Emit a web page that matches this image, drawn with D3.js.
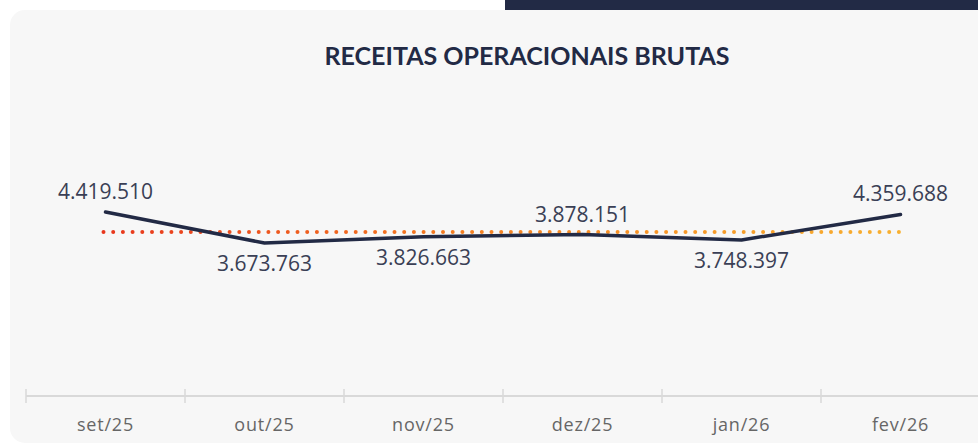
<!DOCTYPE html>
<html>
<head>
<meta charset="utf-8">
<script src="https://cdn.jsdelivr.net/npm/d3@7"></script>
<style>
  body { margin: 0; background: #ffffff; overflow: hidden; }
  svg { display: block; }
</style>
</head>
<body>
<script>
const canvWidth = 978, canvHeight = 445;

// data
const months = ["set/25", "out/25", "nov/25", "dez/25", "jan/26", "fev/26"];
const revenue = [4419510, 3673763, 3826663, 3878151, 3748397, 4359688];
const labelSide = ["above", "below", "below", "above", "below", "above"];
const chartTitle = "RECEITAS OPERACIONAIS BRUTAS";

const fmt = d3.formatLocale({decimal: ",", thousands: ".", grouping: [3], currency: ["R$", ""]}).format(",d");
const average = d3.mean(revenue);

const svg = d3.select("body").append("svg")
    .attr("width", canvWidth)
    .attr("height", canvHeight);

// dark bar peeking from the top
svg.append("rect")
    .attr("x", 505).attr("y", 0)
    .attr("width", 480).attr("height", 10)
    .attr("fill", "#222a45");

// card
svg.append("rect")
    .attr("x", 10).attr("y", 10)
    .attr("width", 1000).attr("height", 433)
    .attr("rx", 15)
    .attr("fill", "#f7f7f7");

svg.append("text")
    .attr("x", 527)
    .attr("y", 65)
    .attr("text-anchor", "middle")
    .attr("font-family", "Lato, sans-serif")
    .attr("font-weight", "bold")
    .attr("font-size", "24px")
    .attr("fill", "#222a45")
    .attr("textLength", 405)
    .attr("lengthAdjust", "spacingAndGlyphs")
    .text(chartTitle);

const xScale = d3.scaleBand().domain(months).range([26, 980]);
const yScale = d3.scaleLinear().domain([0, 4419510]).range([396, 212]);
const xc = d => xScale(d) + xScale.bandwidth() / 2;

// x axis
const axis = svg.append("g")
    .attr("transform", "translate(0,396)");
axis.append("line")
    .attr("x1", 26).attr("x2", canvWidth)
    .attr("stroke", "#d9d9d9").attr("stroke-width", 2);
axis.selectAll(".tick")
    .data(months.concat([null]))
    .enter().append("line")
    .attr("x1", (d, i) => 26 + i * xScale.bandwidth())
    .attr("x2", (d, i) => 26 + i * xScale.bandwidth())
    .attr("y1", -7).attr("y2", 7)
    .attr("stroke", "#d9d9d9").attr("stroke-width", 1.5);
axis.selectAll(".lbl")
    .data(months)
    .enter().append("text")
    .attr("x", d => xc(d))
    .attr("y", 35)
    .attr("text-anchor", "middle")
    .attr("font-family", "'Open Sans', sans-serif")
    .attr("font-size", "18px")
    .attr("letter-spacing", "0.8px")
    .attr("fill", "#666")
    .text(d => d);

// average dotted line with gradient
const grad = svg.append("defs").append("linearGradient")
    .attr("id", "avgGrad")
    .attr("gradientUnits", "userSpaceOnUse")
    .attr("x1", xc(months[0])).attr("x2", xc(months[months.length - 1]))
    .attr("y1", 0).attr("y2", 0);
grad.append("stop").attr("offset", "0%").attr("stop-color", "#e8361c");
grad.append("stop").attr("offset", "45%").attr("stop-color", "#f47f22");
grad.append("stop").attr("offset", "100%").attr("stop-color", "#f8b030");

svg.append("line")
    .attr("x1", xc(months[0]) - 2)
    .attr("x2", xc(months[months.length - 1]))
    .attr("y1", yScale(average) + 2).attr("y2", yScale(average) + 2)
    .attr("stroke", "url(#avgGrad)")
    .attr("stroke-width", 4)
    .attr("stroke-linecap", "round")
    .attr("stroke-dasharray", "0 9.7");

// revenue line
const line = d3.line()
    .x((d, i) => xc(months[i]))
    .y(d => yScale(d));

svg.append("path")
    .datum(revenue)
    .attr("d", line)
    .attr("fill", "none")
    .attr("stroke", "#222a45")
    .attr("stroke-width", 3.5)
    .attr("stroke-linecap", "round")
    .attr("stroke-linejoin", "round");

svg.selectAll(".val")
    .data(revenue)
    .enter().append("text")
    .attr("x", (d, i) => xc(months[i]))
    .attr("y", (d, i) => labelSide[i] === "above" ? yScale(d) - 13 : yScale(d) + 28)
    .attr("text-anchor", "middle")
    .attr("font-family", "'Open Sans', sans-serif")
    .attr("font-size", "21px")
    .attr("fill", "#3a3f55")
    .text(d => fmt(d));
</script>
</body>
</html>
